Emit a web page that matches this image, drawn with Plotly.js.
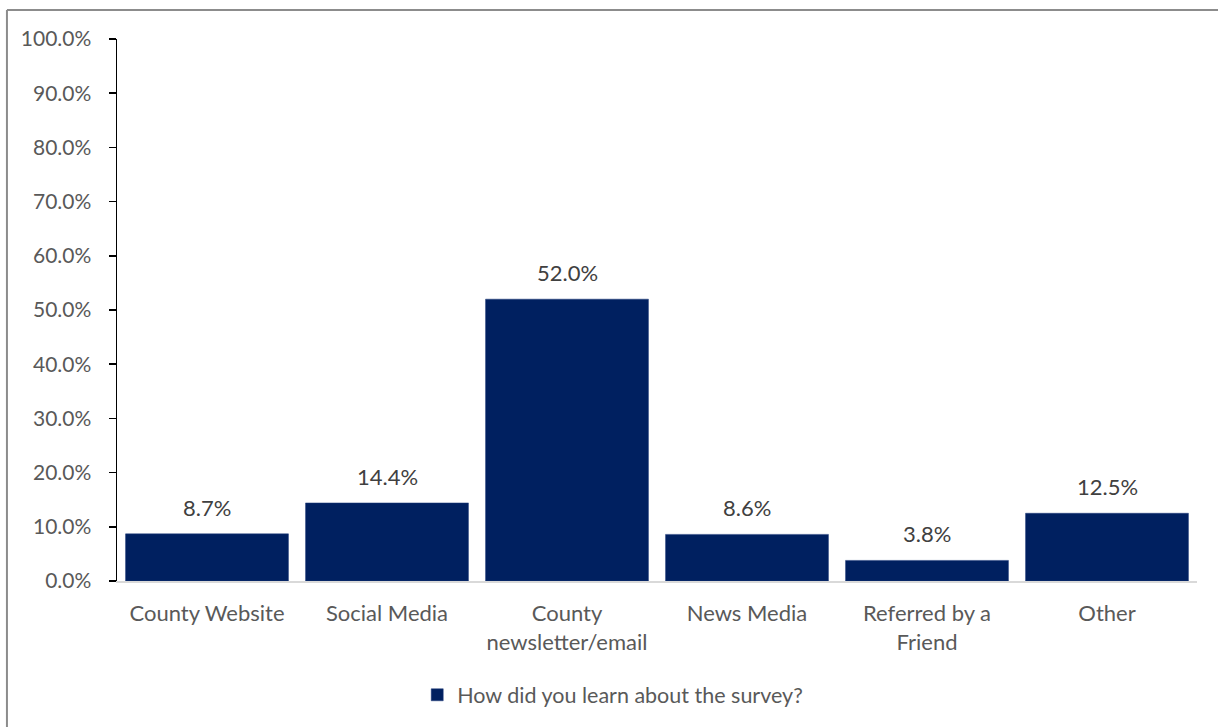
<!DOCTYPE html>
<html>
<head>
<meta charset="utf-8">
<script src="https://cdn.plot.ly/plotly-3.0.1.min.js"></script>
<style>html,body{margin:0;padding:0;background:#fff;}#chart{width:1218px;height:727px;}</style>
</head>
<body>
<div id="chart"></div>
<script>
const categories = ["County Website", "Social Media", "County<br>newsletter/email", "News Media", "Referred by a<br>Friend", "Other"];
const shares = [0.087, 0.144, 0.520, 0.086, 0.038, 0.125];
const seriesName = "How did you learn about the survey?";
const yTicks = [0, 0.1, 0.2, 0.3, 0.4, 0.5, 0.6, 0.7, 0.8, 0.9, 1.0];

const fontFam = "Lato, Open Sans, sans-serif";
const trace = {
  type: "bar",
  x: categories,
  y: shares,
  name: seriesName,
  marker: {color: "#002060", line: {color: "#1f3a7a", width: 0.5}},
  showlegend: true
};
const labelAnnotations = categories.map((c, i) => ({
  x: c, y: shares[i], xref: "x", yref: "y",
  text: (shares[i] * 100).toFixed(1) + "%",
  showarrow: false, yanchor: "bottom", yshift: 11,
  font: {family: fontFam, size: 22, color: "#404040"}
}));
const layout = {
  width: 1218, height: 727,
  margin: {l: 117, r: 21, t: 39, b: 146},
  paper_bgcolor: "#ffffff", plot_bgcolor: "#ffffff",
  bargap: 0.095,
  font: {family: fontFam, size: 22, color: "#595959"},
  xaxis: {
    type: "category",
    showline: true, linecolor: "#d9d9d9", linewidth: 2,
    ticks: "", showgrid: false, zeroline: false,
    tickfont: {family: fontFam, size: 22, color: "#595959"},
    ticklabelstandoff: 12
  },
  yaxis: {
    range: [0, 1],
    tickvals: yTicks,
    tickformat: ".1%",
    showline: true, linecolor: "#000000", linewidth: 1.5,
    ticks: "outside", ticklen: 7, tickwidth: 1.5, tickcolor: "#000000",
    showgrid: false, zeroline: false,
    ticklabelstandoff: 13,
    tickfont: {family: fontFam, size: 21, color: "#595959"}
  },
  legend: {
    orientation: "h", x: 0.459, xanchor: "center", y: -0.21, yanchor: "middle",
    font: {family: fontFam, size: 21.5, color: "#595959"}
  },
  annotations: labelAnnotations,
  shapes: [
    {type: "line", xref: "paper", yref: "paper", x0: -0.1019, x1: 1.1, y0: 1.0535, y1: 1.0535, line: {color: "#8c8c8c", width: 2}},
    {type: "line", xref: "paper", yref: "paper", x0: -0.1019, x1: -0.1019, y0: 1.0535, y1: -0.4, line: {color: "#8c8c8c", width: 2}}
  ]
};
Plotly.newPlot("chart", [trace], layout, {displayModeBar: false, staticPlot: true});
</script>
</body>
</html>
